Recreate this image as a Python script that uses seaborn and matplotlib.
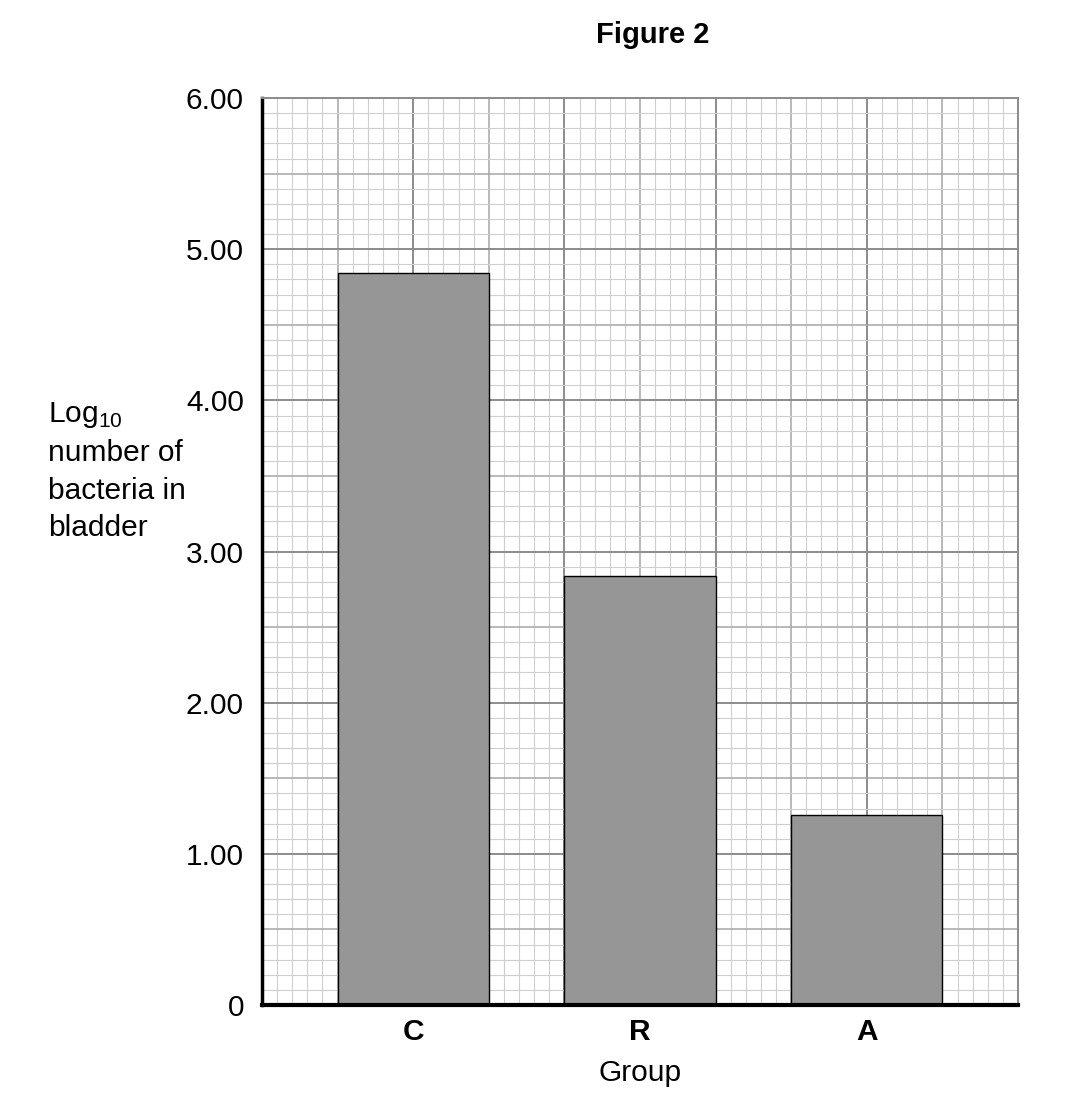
import numpy as np
import pandas as pd
import matplotlib
matplotlib.use("Agg")
import matplotlib.pyplot as plt
import seaborn as sns

# data
groups = ["C", "R", "A"]
log_bacteria = [4.84, 2.84, 1.26]
y_ticks = [0, 1, 2, 3, 4, 5, 6]
y_tick_labels = ["0", "1.00", "2.00", "3.00", "4.00", "5.00", "6.00"]

df = pd.DataFrame({"Group": groups, "LogBacteria": log_bacteria})

sns.set_style("white")
plt.rcParams["font.family"] = ["Liberation Sans", "DejaVu Sans"]
plt.rcParams["mathtext.fontset"] = "custom"
plt.rcParams["mathtext.rm"] = "Liberation Sans"
for key in ["text.color", "axes.labelcolor", "xtick.color", "ytick.color"]:
    plt.rcParams[key] = "black"

FS = 21.5

fig = plt.figure(figsize=(10.82, 11.02), dpi=100)
ax = fig.add_axes([0.2421, 0.088, 0.6988, 0.823])

# graph-paper grid (1 unit = 2/3 of a category step on x)
u = 2 / 3
x0, x1 = -u, 2 + u
for k in range(51):
    x = x0 + k * u / 10
    if k % 10 == 0:
        c, lw = "#8c8c8c", 1.4
    elif k % 5 == 0:
        c, lw = "#a6a6a6", 1.1
    else:
        c, lw = "#cfcfcf", 0.8
    ax.axvline(x, color=c, lw=lw, zorder=0)
for k in range(61):
    y = k / 10
    if k % 10 == 0:
        c, lw = "#8c8c8c", 1.4
    elif k % 5 == 0:
        c, lw = "#a6a6a6", 1.1
    else:
        c, lw = "#cfcfcf", 0.8
    ax.axhline(y, color=c, lw=lw, zorder=0)

sns.barplot(data=df, x="Group", y="LogBacteria", color="#969696",
            saturation=1, width=u, edgecolor="black", linewidth=1.0,
            ax=ax, zorder=2)

ax.set_xlim(x0, x1)
ax.set_ylim(0, 6)
ax.set_yticks(y_ticks)
ax.set_yticklabels(y_tick_labels, fontsize=FS)
ax.tick_params(axis="y", length=10, width=1, color="#555555", pad=3)
ax.tick_params(axis="x", length=0, pad=9)
for lbl in ax.get_xticklabels():
    lbl.set_fontweight("bold")
    lbl.set_fontsize(FS)

for side in ["top", "right"]:
    ax.spines[side].set_color("#8c8c8c")
    ax.spines[side].set_linewidth(1.4)
ax.spines["left"].set_color("black")
ax.spines["left"].set_linewidth(2.5)
ax.spines["bottom"].set_color("black")
ax.spines["bottom"].set_linewidth(3)
for s in ax.spines.values():
    s.set_zorder(3)

ax.set_xlabel("Group", fontsize=FS, labelpad=10)
ax.set_ylabel("")

fig.text(48 / 1082, 1 - 400 / 1102,
         "Log$_{\\mathregular{10}}$\nnumber of\nbacteria in\nbladder",
         fontsize=FS, ha="left", va="top", linespacing=1.43)

fig.text(653 / 1082, 1 - 35 / 1102, "Figure 2", fontsize=21,
         fontweight="bold", ha="center", va="center")

fig.savefig("out.png", dpi=100)
